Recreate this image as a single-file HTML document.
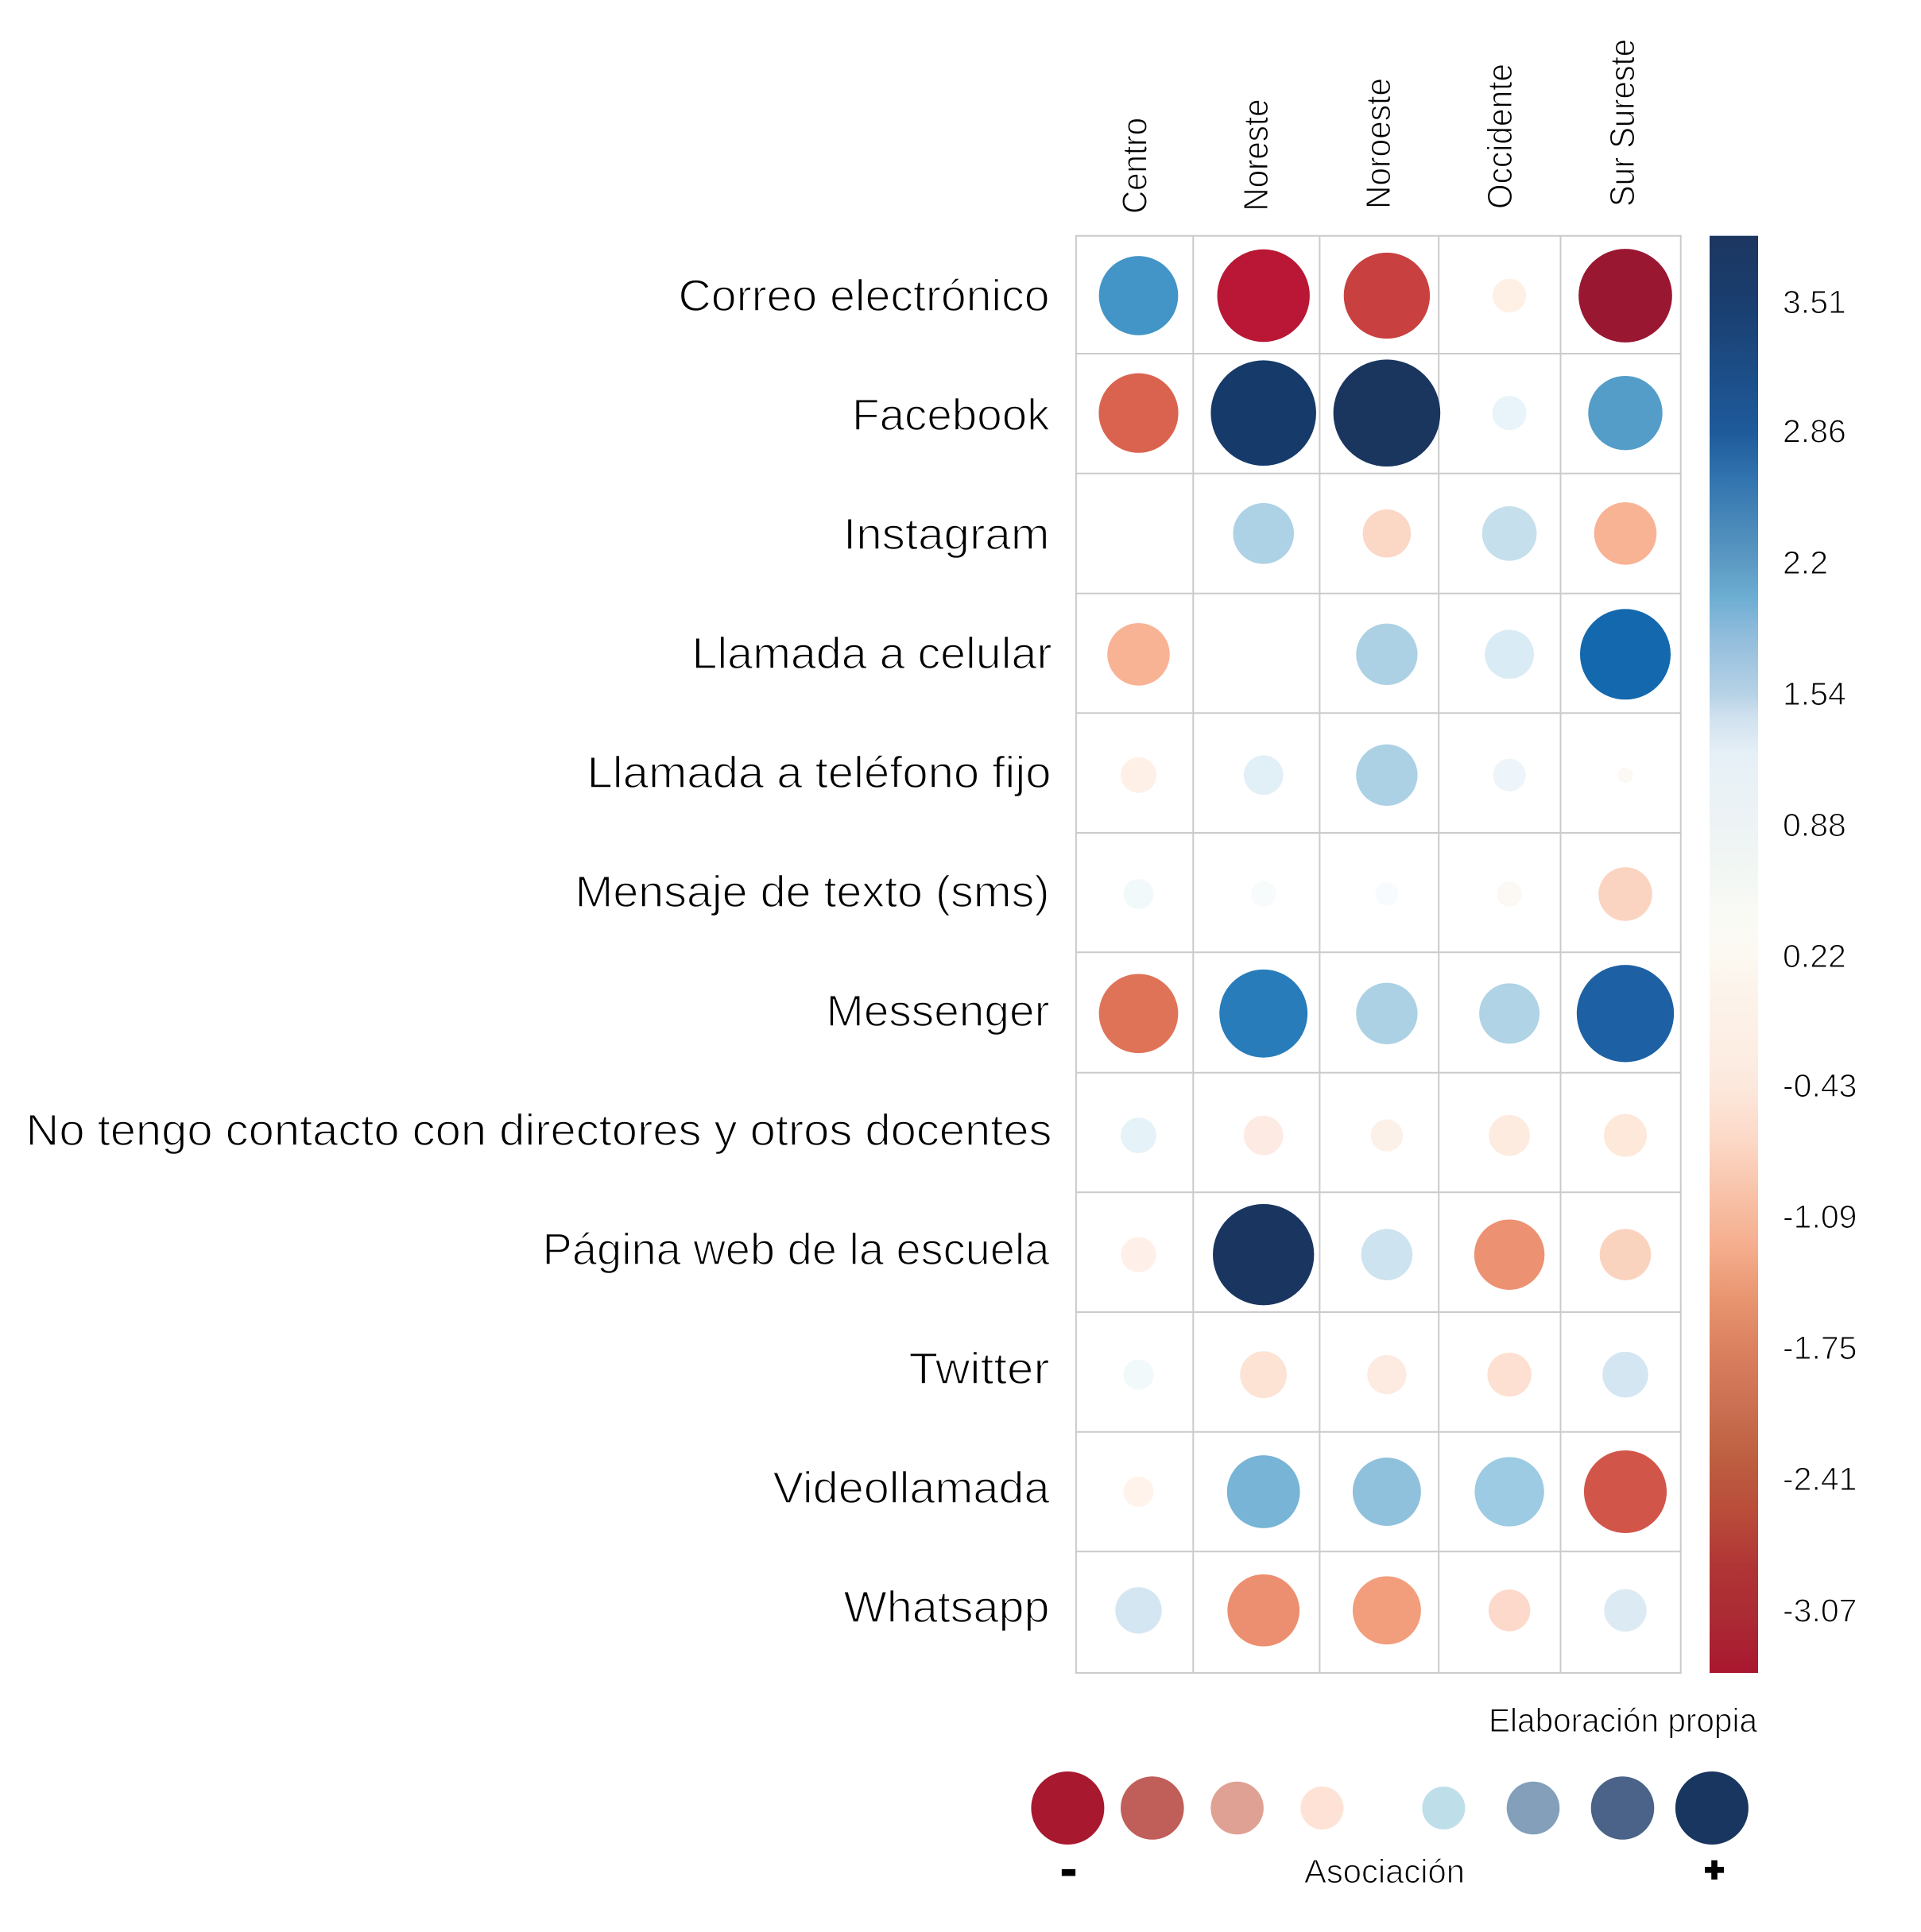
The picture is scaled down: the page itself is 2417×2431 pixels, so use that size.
<!DOCTYPE html>
<html lang="es">
<head>
<meta charset="utf-8">
<title>Asociación por región</title>
<style>
html,body{margin:0;padding:0;background:#fff;}
svg{display:block;}
text{font-family:"Liberation Sans",sans-serif;fill:#000;}
.thin-l{stroke:#fff;stroke-width:1.5px;}
.thin-m{stroke:#fff;stroke-width:1.1px;}
</style>
</head>
<body>
<svg id="chart" xmlns="http://www.w3.org/2000/svg" width="2417" height="2431" viewBox="0 0 2417 2431">
  <defs>
    <linearGradient id="bar-gradient" x1="0" y1="0" x2="0" y2="1">
      <stop offset="0" stop-color="#1c3660"/><stop offset=".046" stop-color="#1a3e6f"/>
      <stop offset=".136" stop-color="#1e5a9b"/><stop offset=".168" stop-color="#3173ae"/>
      <stop offset=".227" stop-color="#5c9ac3"/><stop offset=".251" stop-color="#6cadd2"/>
      <stop offset=".278" stop-color="#90bcdc"/><stop offset=".319" stop-color="#b6d2e6"/>
      <stop offset=".334" stop-color="#cfe0ee"/><stop offset=".361" stop-color="#e6f0f7"/>
      <stop offset=".409" stop-color="#edf3f5"/><stop offset=".444" stop-color="#f2f7f3"/>
      <stop offset=".472" stop-color="#fafaf5"/><stop offset=".501" stop-color="#fcf9f2"/>
      <stop offset=".527" stop-color="#fcf3ea"/><stop offset=".566" stop-color="#fdeee4"/>
      <stop offset=".592" stop-color="#fce8dc"/><stop offset=".63" stop-color="#fcd8c6"/>
      <stop offset=".667" stop-color="#f8c2a8"/><stop offset=".704" stop-color="#f5ad8d"/>
      <stop offset=".741" stop-color="#e8946f"/><stop offset=".778" stop-color="#d97f5e"/>
      <stop offset=".815" stop-color="#cb7052"/><stop offset=".852" stop-color="#bd5e40"/>
      <stop offset=".889" stop-color="#b94c3a"/><stop offset=".926" stop-color="#b03535"/>
      <stop offset=".963" stop-color="#ab2a34"/><stop offset="1" stop-color="#a9172f"/>
    </linearGradient>
  </defs>
  <g id="grid"></g>
  <g id="marks"></g>
  <g id="row-labels"></g>
  <g id="col-labels"></g>
  <rect x="2151" y="296.7" width="61" height="1808.3" fill="url(#bar-gradient)"/>
  <g id="bar-ticks"></g>

  <text class="thin-m" x="1873" y="2179" font-size="42" textLength="338" lengthAdjust="spacingAndGlyphs">Elaboración propia</text>

  <g>
    <circle cx="1343.4" cy="2275" r="46" fill="#a8182f"/>
    <circle cx="1449.8" cy="2275" r="39.8" fill="#c05e59"/>
    <circle cx="1556.6" cy="2275" r="33.3" fill="#dfa193"/>
    <circle cx="1663.4" cy="2275" r="27" fill="#fde2d5"/>
    <circle cx="1816.4" cy="2275" r="27" fill="#bedfea"/>
    <circle cx="1929" cy="2275" r="33.3" fill="#839fb9"/>
    <circle cx="2041.5" cy="2275" r="39.8" fill="#4b6388"/>
    <circle cx="2153.9" cy="2275" r="46" fill="#183660"/>
    <text x="1344.5" y="2373" font-size="64" font-weight="700" text-anchor="middle" style="stroke:#000;stroke-width:1px">-</text>
    <text class="thin-m" x="1641" y="2369" font-size="42" textLength="202" lengthAdjust="spacingAndGlyphs">Asociación</text>
    <text x="2157" y="2367" font-size="42" font-weight="700" text-anchor="middle" style="stroke:#000;stroke-width:3px">+</text>
  </g>
</svg>
<script>
// ---- chart data -------------------------------------------------------
const regions = ["Centro", "Noreste", "Noroeste", "Occidente", "Sur Sureste"];
const channels = ["Correo electrónico", "Facebook", "Instagram", "Llamada a celular", "Llamada a teléfono fijo", "Mensaje de texto (sms)", "Messenger", "No tengo contacto con directores y otros docentes", "Página web de la escuela", "Twitter", "Videollamada", "Whatsapp"];
const correoValues = [2.21, -2.47, -2.11, -0.13, -2.53];
const facebookValues = [-1.77, 3.73, 3.84, 0.60, 1.97];
const instagramValues = [null, 1.40, -0.50, 1.17, -1.00];
const celularValues = [-1.00, null, 1.42, 0.99, 2.82];
const fijoValues = [-0.17, 0.72, 1.42, 0.57, 0.155];
const smsValues = [0.52, 0.43, 0.40, 0.03, -0.68];
const messengerValues = [-1.75, 2.68, 1.42, 1.38, 3.21];
const sinContactoValues = [0.63, -0.26, -0.10, -0.30, -0.35];
const paginaWebValues = [-0.16, 3.46, 1.06, -1.33, -0.60];
const twitterValues = [0.52, -0.46, -0.25, -0.38, 0.89];
const videollamadaValues = [-0.06, 1.91, 1.70, 1.75, -1.93];
const whatsappValues = [0.91, -1.41, -1.24, -0.32, 0.80];
const seriesByChannel = [correoValues, facebookValues, instagramValues, celularValues, fijoValues, smsValues, messengerValues, sinContactoValues, paginaWebValues, twitterValues, videollamadaValues, whatsappValues];
const colorbarTicks = ["3.51", "2.86", "2.2", "1.54", "0.88", "0.22", "-0.43", "-1.09", "-1.75", "-2.41", "-3.07"];

// ---- axis functions ---------------------------------------------------
const NS = "http://www.w3.org/2000/svg";
const SCALE_MID = 0.23, SCALE_SPAN = 3.61, MAX_RADIUS = 67.3;
const xAxis = i => [1432.5, 1589.7, 1744.9, 1899.1, 2045][i];
const yAxis = i => [372, 519.7, 671.3, 823.3, 975.3, 1125, 1275.3, 1428.7, 1578.7, 1729.7, 1877, 2026.3][i];
const gridX = i => [1353.9, 1501.3, 1660.4, 1810.2, 1963.5, 2114.7][i];
const gridY = i => [296.7, 445, 595.7, 746.7, 897.3, 1048, 1198.3, 1349.7, 1500.3, 1651, 1801.7, 1952.3, 2105][i];
const barY = v => 379 + (3.51 - v) * 250.2;
const radius = v => MAX_RADIUS * Math.sqrt(Math.abs(v - SCALE_MID) / SCALE_SPAN);
const rowLabelBaseline = j => 391 + 150 * j;
const colLabelBaseline = i => [1442.5, 1595, 1749, 1902, 2056][i];

const blueRamp = [[0, "#ffffff"], [0.17, "#f8fbfd"], [0.2, "#f7fbfb"], [0.29, "#f2f9fb"], [0.34, "#edf5fa"], [0.38, "#e6f3f8"], [0.49, "#e1eff7"], [0.57, "#dceaf4"], [0.66, "#d4e6f2"], [0.68, "#d4e6f1"], [0.76, "#d9ebf5"], [0.83, "#cde3ef"], [0.94, "#c5dfed"], [1.17, "#aed2e5"], [1.47, "#90c1dc"], [1.52, "#9ccbe3"], [1.68, "#77b4d5"], [1.74, "#539dc8"], [1.98, "#4295c6"], [2.45, "#287cba"], [2.59, "#1468ad"], [2.98, "#1d60a3"], [3.23, "#1a3660"], [3.5, "#163a69"], [3.61, "#1a365f"]];
const redRamp = [[0, "#ffffff"], [0.075, "#fcf9f4"], [0.2, "#fcf8f3"], [0.29, "#fff3ec"], [0.33, "#fbf1e9"], [0.36, "#fff0e6"], [0.39, "#fef0e8"], [0.48, "#fdeae0"], [0.49, "#fdebe3"], [0.53, "#fdebdf"], [0.55, "#fcd9ca"], [0.58, "#fde8da"], [0.61, "#fde0d1"], [0.69, "#fde3d4"], [0.73, "#fbd7c5"], [0.83, "#fad3bf"], [0.91, "#fad4c1"], [1.23, "#f8b395"], [1.47, "#f29d7c"], [1.56, "#ec9172"], [1.64, "#ec8f70"], [1.98, "#df7358"], [2.0, "#da6350"], [2.16, "#d2554a"], [2.34, "#c94040"], [2.7, "#b91735"], [2.76, "#991730"], [3.61, "#7a1028"]];

function hexToRgb(h) {
  return [parseInt(h.slice(1, 3), 16), parseInt(h.slice(3, 5), 16), parseInt(h.slice(5, 7), 16)];
}
function colorOf(v) {
  const d = Math.min(Math.abs(v - SCALE_MID), SCALE_SPAN);
  const ramp = v >= SCALE_MID ? blueRamp : redRamp;
  for (let k = 1; k < ramp.length; k++) {
    if (d <= ramp[k][0]) {
      const t = (d - ramp[k - 1][0]) / (ramp[k][0] - ramp[k - 1][0]);
      const a = hexToRgb(ramp[k - 1][1]), b = hexToRgb(ramp[k][1]);
      return "rgb(" + a.map((c, n) => Math.round(c + (b[n] - c) * t)).join(",") + ")";
    }
  }
  return ramp[ramp.length - 1][1];
}
function make(tag, attrs, parent) {
  const el = document.createElementNS(NS, tag);
  for (const key in attrs) el.setAttribute(key, attrs[key]);
  parent.appendChild(el);
  return el;
}

// ---- grid ---------------------------------------------------------------
const gridGroup = document.getElementById("grid");
for (let i = 0; i <= regions.length; i++) {
  const line = make("line", {x1: gridX(i), x2: gridX(i), y1: gridY(0) - 1, y2: gridY(channels.length) + 1, stroke: "#cbcbcb", "stroke-width": 2}, gridGroup);
  
  
}
for (let j = 0; j <= channels.length; j++) {
  const line = make("line", {x1: gridX(0) - 1, x2: gridX(regions.length) + 1, y1: gridY(j), y2: gridY(j), stroke: "#cbcbcb", "stroke-width": 2}, gridGroup);
  
  
}

// ---- marks --------------------------------------------------------------
const marksGroup = document.getElementById("marks");
seriesByChannel.forEach((values, j) => {
  values.forEach((v, i) => {
    if (v === null) return;
    const dot = make("circle", {cx: xAxis(i), cy: yAxis(j), r: radius(v).toFixed(2), fill: colorOf(v)}, marksGroup);
    
    
  });
});

// ---- row labels ---------------------------------------------------------
const rowLabelGroup = document.getElementById("row-labels");
const rowLabelLengths = [467, 248.5, 259.5, 453, 584, 597, 281, 1291, 638, 177, 348, 259];
const rowLabelRight = [1320.5, 1320.5, 1320.5, 1323.5, 1322.5, 1320.5, 1320.5, 1323.5, 1320.5, 1320.5, 1320.5, 1320.5];
channels.forEach((name, j) => {
  const t = make("text", {x: rowLabelRight[j] - rowLabelLengths[j], y: rowLabelBaseline(j), "font-size": 56, class: "thin-l", textLength: rowLabelLengths[j], lengthAdjust: "spacingAndGlyphs"}, rowLabelGroup);
  t.textContent = name;
  
  
});

// ---- column labels ------------------------------------------------------
const colLabelGroup = document.getElementById("col-labels");
const colLabelLengths = [121, 141, 165, 183, 211];
const colLabelBottom = [269, 265.5, 263, 263, 260];
regions.forEach((name, i) => {
  const bx = colLabelBaseline(i);
  const by = colLabelBottom[i];
  const t = make("text", {x: bx, y: by, transform: "rotate(-90 " + bx + " " + by + ")", "font-size": 44, class: "thin-m", textLength: colLabelLengths[i], lengthAdjust: "spacingAndGlyphs"}, colLabelGroup);
  t.textContent = name;
  
  
});

// ---- colorbar tick labels -----------------------------------------------
const tickGroup = document.getElementById("bar-ticks");
colorbarTicks.forEach(label => {
  const t = make("text", {x: 2243, y: (barY(parseFloat(label)) + 15).toFixed(1), "font-size": 41, class: "thin-m"}, tickGroup);
  t.textContent = label;
  
  
});
</script>
</body>
</html>
